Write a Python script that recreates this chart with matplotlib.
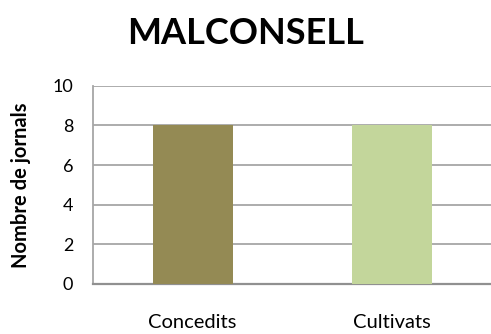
import matplotlib as mpl
import matplotlib.pyplot as plt

CATEGORIES = ["Concedits", "Cultivats"]
VALUES = [8, 8]
BAR_COLORS = ["#948A54", "#C3D69B"]
Y_TICKS = [0, 2, 4, 6, 8, 10]

mpl.rcParams.update({
    "font.family": ["Lato", "DejaVu Sans"],
})


def main():
    fig = plt.figure(figsize=(4.91, 3.34), dpi=100)
    ax = fig.add_axes([0.189, 0.150, 0.813, 0.593])

    x = range(len(CATEGORIES))
    ax.bar(x, VALUES, width=0.4, color=BAR_COLORS, zorder=3)

    ax.set_xlim(-0.5, 1.5)
    ax.set_ylim(0, 10)
    ax.set_yticks(Y_TICKS)
    ax.set_xticks(list(x), CATEGORIES, fontsize=14.5)
    ax.tick_params(axis="x", length=0, pad=22)
    ax.tick_params(axis="y", length=0, pad=14, labelsize=13)

    ax.grid(axis="y", color="#A6A6A6", linewidth=1.3, zorder=1)
    for side in ("top", "right"):
        ax.spines[side].set_visible(False)
    ax.spines["left"].set_color("#A6A6A6")
    ax.spines["left"].set_linewidth(1.3)
    ax.spines["bottom"].set_color("#909090")
    ax.spines["bottom"].set_linewidth(1.6)

    fig.text(21 / 491, 0.446, "Nombre de jornals", rotation=90,
             ha="center", va="center", fontsize=14.5, fontweight="bold")
    fig.text(0.5, 0.9, "MALCONSELL", ha="center", va="center",
             fontsize=26, fontweight="bold")

    fig.savefig("out.png", dpi=100)
    plt.close(fig)


if __name__ == "__main__":
    main()
